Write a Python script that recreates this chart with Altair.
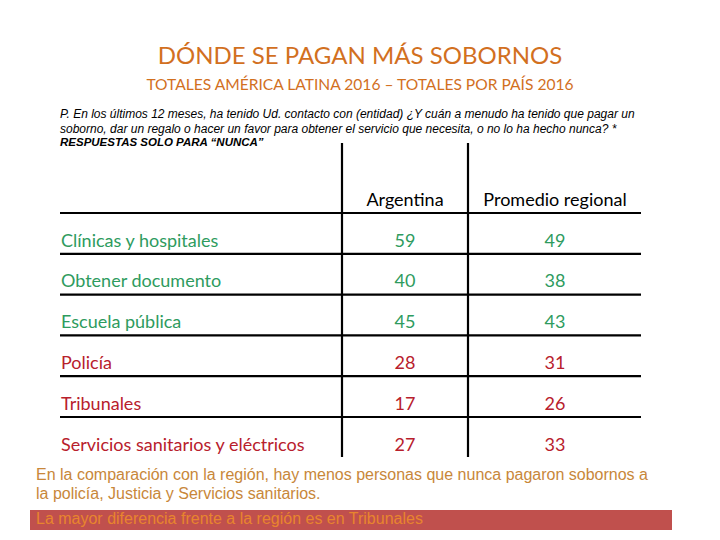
import altair as alt
import pandas as pd

# ---- data ----
categories = ["Clínicas y hospitales", "Obtener documento", "Escuela pública",
              "Policía", "Tribunales", "Servicios sanitarios y eléctricos"]
argentina = [59, 40, 45, 28, 17, 27]
regional = [49, 38, 43, 31, 26, 33]
col_headers = ["Argentina", "Promedio regional"]

title = "DÓNDE SE PAGAN MÁS SOBORNOS"
subtitle = "TOTALES AMÉRICA LATINA 2016 – TOTALES POR PAÍS 2016"
question = [
    "P. En los últimos 12 meses, ha tenido Ud. contacto con (entidad) ¿Y cuán a menudo ha tenido que pagar un",
    "soborno, dar un regalo o hacer un favor para obtener el servicio que necesita, o no lo ha hecho nunca? *",
]
question_bold = "RESPUESTAS SOLO PARA “NUNCA”"
note = [
    "En la comparación con la región, hay menos personas que nunca pagaron sobornos a",
    "la policía, Justicia y Servicios sanitarios.",
]
highlight = "La mayor diferencia frente a la región es en Tribunales"

# ---- layout (pixel coordinates of the page) ----
GREEN = "#2E9B5E"
RED = "#B8202C"
ORANGE = "#D2701F"
NOTE_C = "#C8873A"
TFONT = "Lato"
TSIZE = 18

X0, X1 = 8, 712
Y0, Y1 = 8, 532
xs = alt.Scale(domain=[X0, X1], range=[0, X1 - X0])
ys = alt.Scale(domain=[Y0, Y1], range=[0, Y1 - Y0])

row_y0, row_step = 241.5, 40.8
header_y = 201
line_y0 = 213
lab_x, arg_x, reg_x = 61, 405, 555
tab_left, tab_right = 60, 641
v_lines = [342, 468]
v_top, v_bot = 143, 457

rows = []
for i, (c, a, r) in enumerate(zip(categories, argentina, regional)):
    rows.append(dict(cat=c, arg=str(a), reg=str(r), y=row_y0 + i * row_step,
                     color=GREEN if a > r else RED))
rows = pd.DataFrame(rows)

def X(f): return alt.X(f, type="quantitative", scale=xs, axis=None)
def Y(f): return alt.Y(f, type="quantitative", scale=ys, axis=None)

color_enc = alt.Color("color:N", scale=None)

lab = alt.Chart(rows).mark_text(align="left", baseline="middle", font=TFONT, fontSize=TSIZE).encode(
    x=alt.value(lab_x - X0), y=Y("y"), text="cat:N", color=color_enc)
argt = alt.Chart(rows).mark_text(align="center", baseline="middle", font=TFONT, fontSize=TSIZE).encode(
    x=alt.value(arg_x - X0), y=Y("y"), text="arg:N", color=color_enc)
regt = alt.Chart(rows).mark_text(align="center", baseline="middle", font=TFONT, fontSize=TSIZE).encode(
    x=alt.value(reg_x - X0), y=Y("y"), text="reg:N", color=color_enc)

hdr = pd.DataFrame(dict(t=col_headers, x=[arg_x, reg_x], y=[header_y, header_y]))
hdrt = alt.Chart(hdr).mark_text(align="center", baseline="middle", font=TFONT, fontSize=TSIZE, color="black").encode(
    x=X("x"), y=Y("y"), text="t:N")

hl = pd.DataFrame(dict(x=[tab_left] * 6, x2=[tab_right] * 6,
                       y=[line_y0 + i * row_step for i in range(6)]))
hlines = alt.Chart(hl).mark_rule(color="black", strokeWidth=2.2).encode(x=X("x"), x2="x2", y=Y("y"))
vl = pd.DataFrame(dict(x=v_lines, y=[v_top] * 2, y2=[v_bot] * 2))
vlines = alt.Chart(vl).mark_rule(color="black", strokeWidth=2.2).encode(x=X("x"), y=Y("y"), y2="y2")

tt = pd.DataFrame(dict(t=[title], x=[360], y=[57]))
title_m = alt.Chart(tt).mark_text(align="center", baseline="middle", font=TFONT, fontSize=24, color=ORANGE).encode(
    x=X("x"), y=Y("y"), text="t:N")
st = pd.DataFrame(dict(t=[subtitle], x=[360], y=[85]))
sub_m = alt.Chart(st).mark_text(align="center", baseline="middle", font=TFONT, fontSize=15.6, color=ORANGE).encode(
    x=X("x"), y=Y("y"), text="t:N")

qd = pd.DataFrame(dict(t=question, x=[60, 60], y=[114, 128.5]))
q_m = alt.Chart(qd).mark_text(align="left", baseline="middle", font="Liberation Sans", fontStyle="italic",
                              fontSize=12, color="black").encode(x=X("x"), y=Y("y"), text="t:N")
qb = pd.DataFrame(dict(t=[question_bold], x=[60], y=[143]))
qb_m = alt.Chart(qb).mark_text(align="left", baseline="middle", font="Liberation Sans", fontStyle="italic",
                               fontWeight="bold", fontSize=11.5, color="black").encode(x=X("x"), y=Y("y"), text="t:N")

nd = pd.DataFrame(dict(t=note, x=[36, 36], y=[475, 494]))
note_m = alt.Chart(nd).mark_text(align="left", baseline="middle", font="Liberation Sans", fontSize=16,
                                 color=NOTE_C).encode(x=X("x"), y=Y("y"), text="t:N")

box = pd.DataFrame(dict(x=[30], x2=[672], y=[510], y2=[530]))
box_m = alt.Chart(box).mark_rect(color="#C0504D").encode(x=X("x"), x2="x2", y=Y("y"), y2="y2")
hd = pd.DataFrame(dict(t=[highlight], x=[36], y=[519]))
hl_m = alt.Chart(hd).mark_text(align="left", baseline="middle", font="Liberation Sans", fontSize=16,
                               color="#E8852E").encode(x=X("x"), y=Y("y"), text="t:N")

chart = alt.layer(hlines, vlines, lab, argt, regt, hdrt, title_m, sub_m, q_m, qb_m, note_m, box_m, hl_m).properties(
    width=X1 - X0, height=Y1 - Y0, padding=0, autosize=alt.AutoSizeParams(type="none"), background="white"
).configure_view(stroke=None)

chart.save("out.html", embed_options={"renderer": "svg", "actions": False})
